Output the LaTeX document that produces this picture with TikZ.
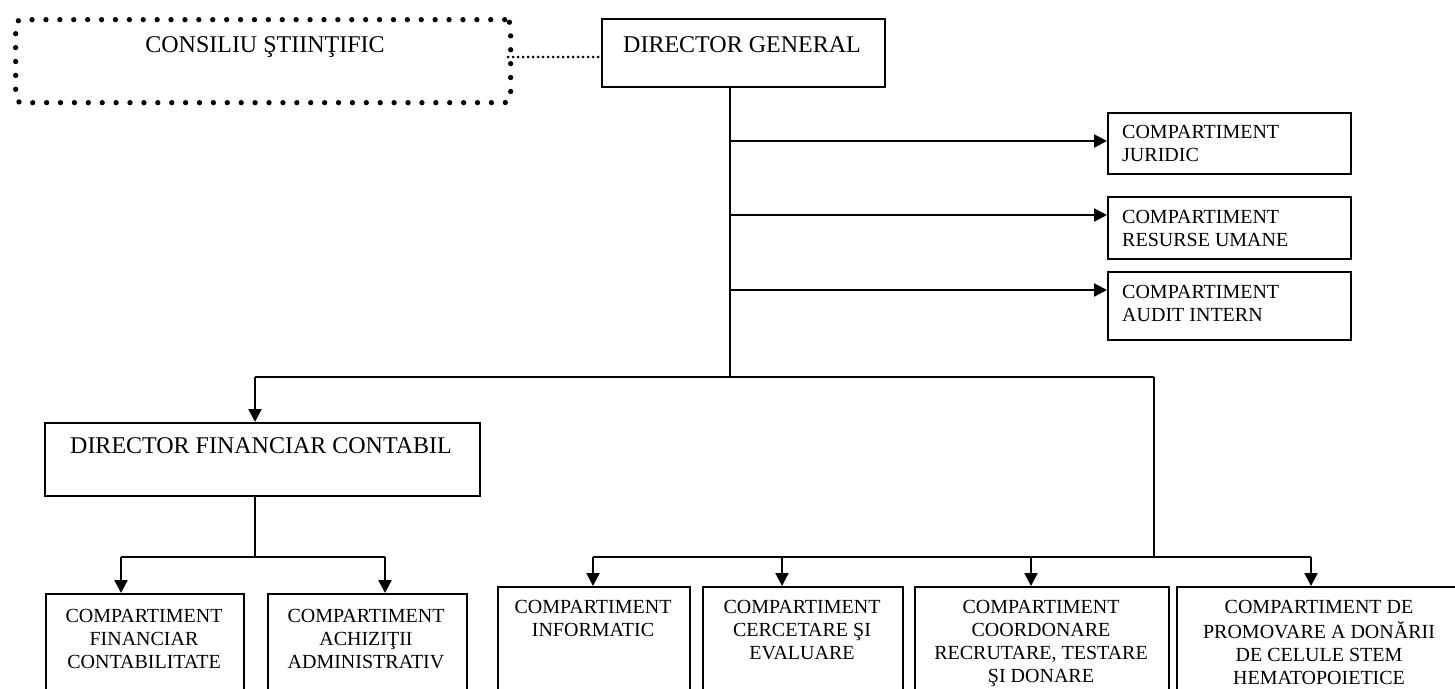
\documentclass[tikz,border=0pt]{standalone}
\usepackage{fontspec}
\setmainfont{Liberation Serif}
\usetikzlibrary{arrows.meta}
\begin{document}
\begin{tikzpicture}[x=1pt,y=-1pt,
  box/.style={draw, line width=2.2pt, inner sep=0pt, anchor=north west},
  bigtxt/.style={font=\fontsize{24}{28}\selectfont, inner sep=0pt, anchor=base},
  smalltxt/.style={font=\fontsize{20}{23}\selectfont, inner sep=0pt, align=center, anchor=north},
  lefttxt/.style={font=\fontsize{20}{23}\selectfont, inner sep=0pt, align=left, anchor=north west},
  arr/.style={line width=2.2pt, -{Triangle[width=13pt,length=13pt]}},
  ln/.style={line width=2.2pt},
  dotbox/.style={draw, line width=5.3pt, line cap=round, dash pattern=on 0pt off 13.9pt, rounded corners=6pt, inner sep=0pt, anchor=north west},
  dotline/.style={line width=3pt, line cap=round, dash pattern=on 0pt off 5pt}]
\useasboundingbox (0,0) rectangle (1455,688);

% boxes
\node[dotbox, minimum width=495pt, minimum height=83pt] (cs) at (13,17) {};
\node[box, minimum width=283pt, minimum height=68pt] (dg) at (601,18) {};
\node[box, minimum width=243pt, minimum height=61pt] (jur) at (1107,112) {};
\node[box, minimum width=243pt, minimum height=62pt] (res) at (1107,196) {};
\node[box, minimum width=243pt, minimum height=68pt] (aud) at (1107,271) {};
\node[box, minimum width=435pt, minimum height=73pt] (dfc) at (44,422) {};
\node[box, minimum width=198pt, minimum height=120pt] (cfc) at (45,593) {};
\node[box, minimum width=199pt, minimum height=120pt] (caa) at (267,593) {};
\node[box, minimum width=192pt, minimum height=120pt] (inf) at (497,586) {};
\node[box, minimum width=200pt, minimum height=120pt] (cer) at (702,586) {};
\node[box, minimum width=254pt, minimum height=120pt] (coo) at (914,586) {};
\node[box, minimum width=290pt, minimum height=120pt] (pro) at (1176,586) {};

% texts
\node[bigtxt] (cst) at (265,52) {CONSILIU ŞTIINŢIFIC};
\node[bigtxt] (dgt) at (742,52) {DIRECTOR GENERAL};
\node[bigtxt] (dfct) at (261,453) {DIRECTOR FINANCIAR CONTABIL};
\node[lefttxt] (jurt) at (1122,121.9) {\strut COMPARTIMENT\\JURIDIC};
\node[lefttxt] (rest) at (1122,206.9) {\strut COMPARTIMENT\\RESURSE UMANE};
\node[lefttxt] (audt) at (1122,281.9) {\strut COMPARTIMENT\\AUDIT INTERN};
\node[smalltxt] (cfct) at (144,605.9) {\strut COMPARTIMENT\\FINANCIAR\\CONTABILITATE};
\node[smalltxt] (caat) at (366,605.9) {\strut COMPARTIMENT\\ACHIZIŢII\\ADMINISTRATIV};
\node[smalltxt] (inft) at (593,596.9) {\strut COMPARTIMENT\\INFORMATIC};
\node[smalltxt] (cert) at (802,596.9) {\strut COMPARTIMENT\\CERCETARE ŞI\\EVALUARE};
\node[smalltxt] (coot) at (1041,596.9) {\strut COMPARTIMENT\\COORDONARE\\RECRUTARE, TESTARE\\ŞI DONARE};
\node[smalltxt] (prot) at (1319,596.9) {\strut COMPARTIMENT DE\\PROMOVARE A DONĂRII\\DE CELULE STEM\\HEMATOPOIETICE};

% junction points
\coordinate (t) at (730,377);
\coordinate (b1) at (730,141);
\coordinate (b2) at (730,215);
\coordinate (b3) at (730,290);
\coordinate (tl) at (255,377);
\coordinate (tr) at (1154,377);
\coordinate (lm) at (255,557);
\coordinate (lL) at (121,557);
\coordinate (lR) at (385,557);
\coordinate (rm) at (1154,557);
\coordinate (r1) at (593,557);
\coordinate (r2) at (782,557);
\coordinate (r3) at (1031,557);
\coordinate (r4) at (1311,557);
\coordinate (cj) at (508,57);

% connectors
\draw[dotline] (cj) -- (cj -| dg.west);
\draw[ln] (dg.south -| t) -- (t);
\draw[arr] (b1) -- (b1 -| jur.west);
\draw[arr] (b2) -- (b2 -| res.west);
\draw[arr] (b3) -- (b3 -| aud.west);
\draw[ln] (tl) -- (tr);
\draw[arr] (tl) -- (tl |- dfc.north);
\draw[ln] (dfc.south -| lm) -- (lm);
\draw[ln] (lL) -- (lR);
\draw[arr] (lL) -- (lL |- cfc.north);
\draw[arr] (lR) -- (lR |- caa.north);
\draw[ln] (tr) -- (rm);
\draw[ln] (r1) -- (r4);
\draw[arr] (r1) -- (r1 |- inf.north);
\draw[arr] (r2) -- (r2 |- cer.north);
\draw[arr] (r3) -- (r3 |- coo.north);
\draw[arr] (r4) -- (r4 |- pro.north);
\end{tikzpicture}
\end{document}
